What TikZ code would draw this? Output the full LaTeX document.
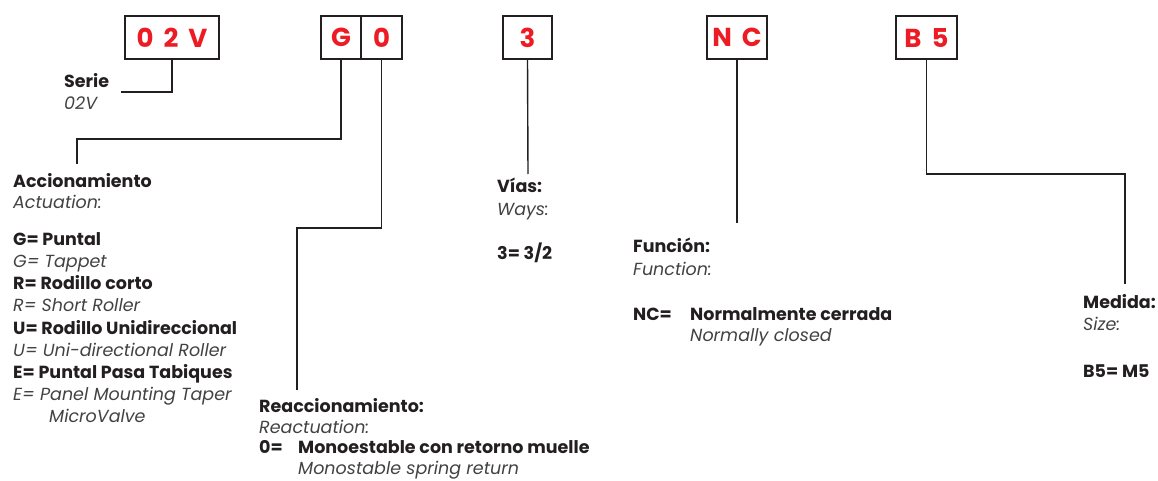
\documentclass[tikz,border=0pt]{standalone}
\usepackage{fontspec}
\setmainfont{Poppins}
\usetikzlibrary{positioning}
\definecolor{codered}{HTML}{ED1C24}
\definecolor{ink}{HTML}{231F20}
\newcommand{\gap}{\hspace{10pt}}
\begin{document}
\begin{tikzpicture}[
    x=1pt, y=-1pt,
    codebox/.style={draw=ink, line width=1.6pt, minimum height=43pt, inner sep=0pt, text=codered, font=\fontsize{26}{26}\selectfont\bfseries},
    head/.style={anchor=base west, inner sep=0pt, text=ink, font=\fontsize{17.5}{20}\selectfont\bfseries},
    sub/.style={anchor=base west, inner sep=0pt, text=ink!85, font=\fontsize{17.5}{20}\selectfont\itshape},
    link/.style={draw=ink, line width=1.4pt}
]
    \useasboundingbox (0,0) rectangle (1158,481);

    % code boxes
    \node [codebox, minimum width=94pt] (box02v) at (172,37.5) {0\gap{}2\gap{}V};
    \node [codebox, minimum width=40pt] (boxg) at (341,37.5) {G};
    \node [codebox, minimum width=41pt] (box0) at (381.5,37.5) {0};
    \node [codebox, minimum width=49pt] (box3) at (527.5,37.5) {3};
    \node [codebox, minimum width=60pt] (boxnc) at (737,37.5) {N\gap{}C};
    \node [codebox, minimum width=61pt] (boxb5) at (926.5,37.5) {B\gap{}5};

    % serie
    \node [head] (serie) at (64,88) {Serie};
    \node [sub] (serie-en) at (64,110) {02V};

    % accionamiento
    \node [head] (acc) at (13,187) {Accionamiento};
    \node [sub] (acc-en) at (13,208) {Actuation:};
    \node [head] (acc-g) at (13,245) {G= Puntal};
    \node [sub] (acc-g-en) at (13,267) {G= Tappet};
    \node [head] (acc-r) at (13,289) {R= Rodillo corto};
    \node [sub] (acc-r-en) at (13,311) {R= Short Roller};
    \node [head] (acc-u) at (13,334) {U= Rodillo Unidireccional};
    \node [sub] (acc-u-en) at (13,356) {U= Uni-directional Roller};
    \node [head] (acc-e) at (13,378) {E= Puntal Pasa Tabiques};
    \node [sub] (acc-e-en) at (13,400) {E= Panel Mounting Taper};
    \node [sub] (acc-e-en2) at (49,422) {MicroValve};

    % reaccionamiento
    \node [head] (reac) at (259,412) {Reaccionamiento:};
    \node [sub] (reac-en) at (259,433) {Reactuation:};
    \node [head] (reac-0) at (259,453) {0=};
    \node [head] (reac-0-txt) at (298,453) {Monoestable con retorno muelle};
    \node [sub] (reac-0-en) at (298,474) {Monostable spring return};

    % vias
    \node [head] (vias) at (497,193) {Vías:};
    \node [sub] (vias-en) at (497,215) {Ways:};
    \node [head] (vias-3) at (497,259) {3= 3/2};

    % funcion
    \node [head] (func) at (633,252) {Función:};
    \node [sub] (func-en) at (633,275) {Function:};
    \node [head] (func-nc) at (633,320) {NC=};
    \node [head] (func-nc-txt) at (690,320) {Normalmente cerrada};
    \node [sub] (func-nc-en) at (690,341) {Normally closed};

    % medida
    \node [head] (med) at (1083,308) {Medida:};
    \node [sub] (med-en) at (1083,330) {Size:};
    \node [head] (med-b5) at (1083,377) {B5= M5};

    % connectors
    \coordinate (serie-end) at (121,92);
    \coordinate (acc-knee) at (77,139);
    \coordinate (acc-end) at (77,164);
    \coordinate (reac-knee) at (297,228);
    \coordinate (reac-end) at (297,390);
    \coordinate (vias-end) at (528,174);
    \coordinate (func-end) at (737,223);
    \coordinate (med-knee) at (1125,174);
    \coordinate (med-end) at (1125,284);

    \draw [link] (box02v.south) |- (serie-end);
    \draw [link] (boxg.south) |- (acc-knee) -- (acc-end);
    \draw [link] (box0.south) |- (reac-knee) -- (reac-end);
    \draw [link] (box3.south) -- (vias-end);
    \draw [link] (boxnc.south) -- (func-end);
    \draw [link] (boxb5.south) |- (med-knee) -- (med-end);
\end{tikzpicture}
\end{document}
